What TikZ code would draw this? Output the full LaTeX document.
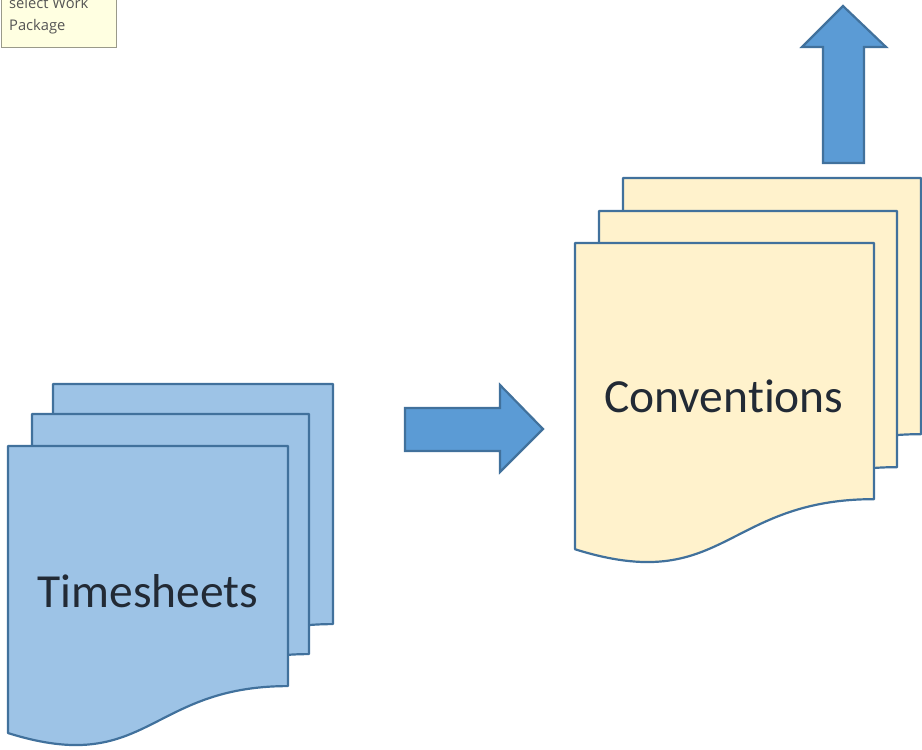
\documentclass[tikz,border=0pt]{standalone}
\usepackage{fontspec}
\setmainfont{Carlito}[Ligatures=NoCommon]
\newfontfamily\notefont{Open Sans}
\definecolor{edgeblue}{HTML}{41719C}
\definecolor{sheetblue}{HTML}{9DC3E6}
\definecolor{sheetcream}{HTML}{FFF2CC}
\definecolor{arrowblue}{HTML}{5B9BD5}
\definecolor{inkdark}{HTML}{222A35}
\definecolor{notefill}{HTML}{FFFFE1}
\definecolor{noteedge}{HTML}{9A9A8A}
\definecolor{noteink}{HTML}{555555}

% sheet with a wavy bottom edge: style, x, y, width, height
\newcommand\docsheet[5]{%
  \path[#1] (#2,#3) -- ({#2+#4},#3) -- ({#2+#4},{#3+0.803*#5})
    .. controls ({#2+0.5*#4},{#3+0.803*#5}) and ({#2+0.5*#4},{#3+1.107*#5})
    .. (#2,{#3+0.96*#5}) -- cycle;}

\tikzset{
  bluesheet/.style={fill=sheetblue, draw=edgeblue, line width=2.2pt, line join=round},
  creamsheet/.style={fill=sheetcream, draw=edgeblue, line width=2.2pt, line join=round},
  blockarrow/.style={fill=arrowblue, draw=edgeblue, line width=2.2pt, line join=miter},
  biglabel/.style={font=\fontsize{47.5}{56}\selectfont, text=inkdark, inner sep=0pt, anchor=base},
  notelabel/.style={font=\notefont\fontsize{14.7}{21.5}\selectfont, text=noteink, inner sep=0pt, anchor=base west, align=left}
}

\begin{document}
\begin{tikzpicture}[x=1pt, y=-1pt]
\useasboundingbox (0,0) rectangle (922,750);

% tooltip note in the corner
\path[fill=notefill, draw=noteedge, line width=1pt] (1,-20) rectangle (116,47);
\node[notelabel] (note1) at (9,8) {select Work};
\node[notelabel] (note2) at (9,30) {Package};

% timesheets stack
\docsheet{bluesheet}{53}{384}{280}{299}
\docsheet{bluesheet}{32}{414}{277}{299}
\docsheet{bluesheet}{8}{446}{280}{299}
\node[biglabel] (ts) at (148,607) {Timesheets};

% conventions stack
\docsheet{creamsheet}{623}{178}{298}{319}
\docsheet{creamsheet}{599}{211}{298}{319}
\docsheet{creamsheet}{575}{243}{299}{319}
\node[biglabel] (conv) at (724,412) {Conventions};

% right-pointing block arrow
\path[blockarrow] (405,408) -- (500,408) -- (500,385) -- (543,429)
  -- (500,472) -- (500,451) -- (405,451) -- cycle;

% upward block arrow
\path[blockarrow] (823,163) -- (823,47) -- (802,47) -- (843,6)
  -- (886,47) -- (864,47) -- (864,163) -- cycle;
\end{tikzpicture}
\end{document}
